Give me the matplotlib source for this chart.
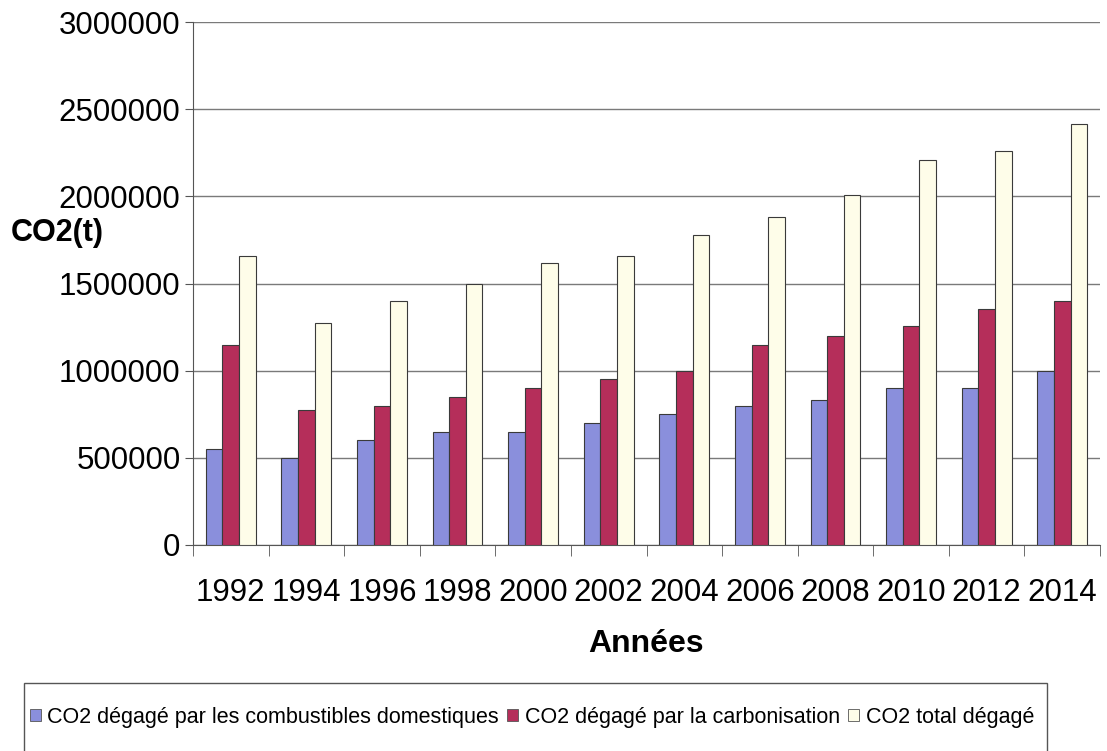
import matplotlib
matplotlib.use('Agg')
import matplotlib.pyplot as plt
from matplotlib.patches import Rectangle, Patch
import numpy as np

plt.rcParams['font.family'] = ['Liberation Sans', 'DejaVu Sans']

years = ['1992', '1994', '1996', '1998', '2000', '2002', '2004', '2006', '2008', '2010', '2012', '2014']
co2_domestique = [550000, 500000, 600000, 650000, 650000, 700000, 750000, 800000, 830000, 900000, 900000, 1000000]
co2_carbonisation = [1150000, 775000, 800000, 850000, 900000, 955000, 1000000, 1150000, 1200000, 1255000, 1355000, 1400000]
co2_total = [1655000, 1275000, 1400000, 1500000, 1615000, 1660000, 1780000, 1880000, 2010000, 2210000, 2260000, 2415000]

labels = ['CO2 dégagé par les combustibles domestiques',
          'CO2 dégagé par la carbonisation',
          'CO2 total dégagé']
colors = ['#8a8fdc', '#b52e5a', '#fefde9']

W, H = 1107, 751
fig = plt.figure(figsize=(W/100, H/100), dpi=100)
ax = fig.add_axes([193/W, 1-545/H, 907/W, 523/H])

x = np.arange(len(years))
bw = 0.22
series = [co2_domestique, co2_carbonisation, co2_total]
for i, (vals, c) in enumerate(zip(series, colors)):
    ax.bar(x + (i-1)*bw, vals, bw, color=c, edgecolor='#3a3a3a', linewidth=0.8, zorder=3)

ax.set_xlim(-0.5, len(years)-0.5)
ax.set_ylim(0, 3000000)
ax.set_yticks(np.arange(0, 3000001, 500000))
ax.set_yticklabels([str(v) for v in range(0, 3000001, 500000)], fontsize=22.5)
ax.yaxis.grid(True, color='#7a7a7a', linewidth=1)
ax.set_axisbelow(True)

ax.set_xticks(x)
ax.set_xticklabels(years, fontsize=22.5)
ax.tick_params(axis='x', which='major', length=0, pad=24)
ax.set_xticks(np.arange(-0.5, len(years), 1), minor=True)
ax.tick_params(axis='x', which='minor', length=8, color='#555555', direction='out')
ax.tick_params(axis='y', length=6, color='#555555', pad=3)

for s in ['top', 'right']:
    ax.spines[s].set_visible(False)
for s in ['left', 'bottom']:
    ax.spines[s].set_color('#555555')

fig.text(57/W, 1-233/H, 'CO2(t)', fontsize=22, fontweight='bold', ha='center', va='center')
fig.text(646/W, 1-644/H, 'Années', fontsize=23, fontweight='bold', ha='center', va='center')

# cadre de la legende
fig.patches.append(Rectangle((24/W, -0.05), (1047-24)/W, 0.05+1-683/H, transform=fig.transFigure,
                             facecolor='white', edgecolor='#555555', linewidth=1))
handles = [Patch(facecolor=c, edgecolor='#555555', linewidth=0.6) for c in colors]
fig.legend(handles, labels, loc='center left', bbox_to_anchor=(30/W, 1-717/H), ncol=3, frameon=False,
           fontsize=15.5, handlelength=0.5, handleheight=0.5, handletextpad=0.3, columnspacing=0.4,
           borderpad=0, borderaxespad=0)

fig.savefig('out.png', dpi=100)
